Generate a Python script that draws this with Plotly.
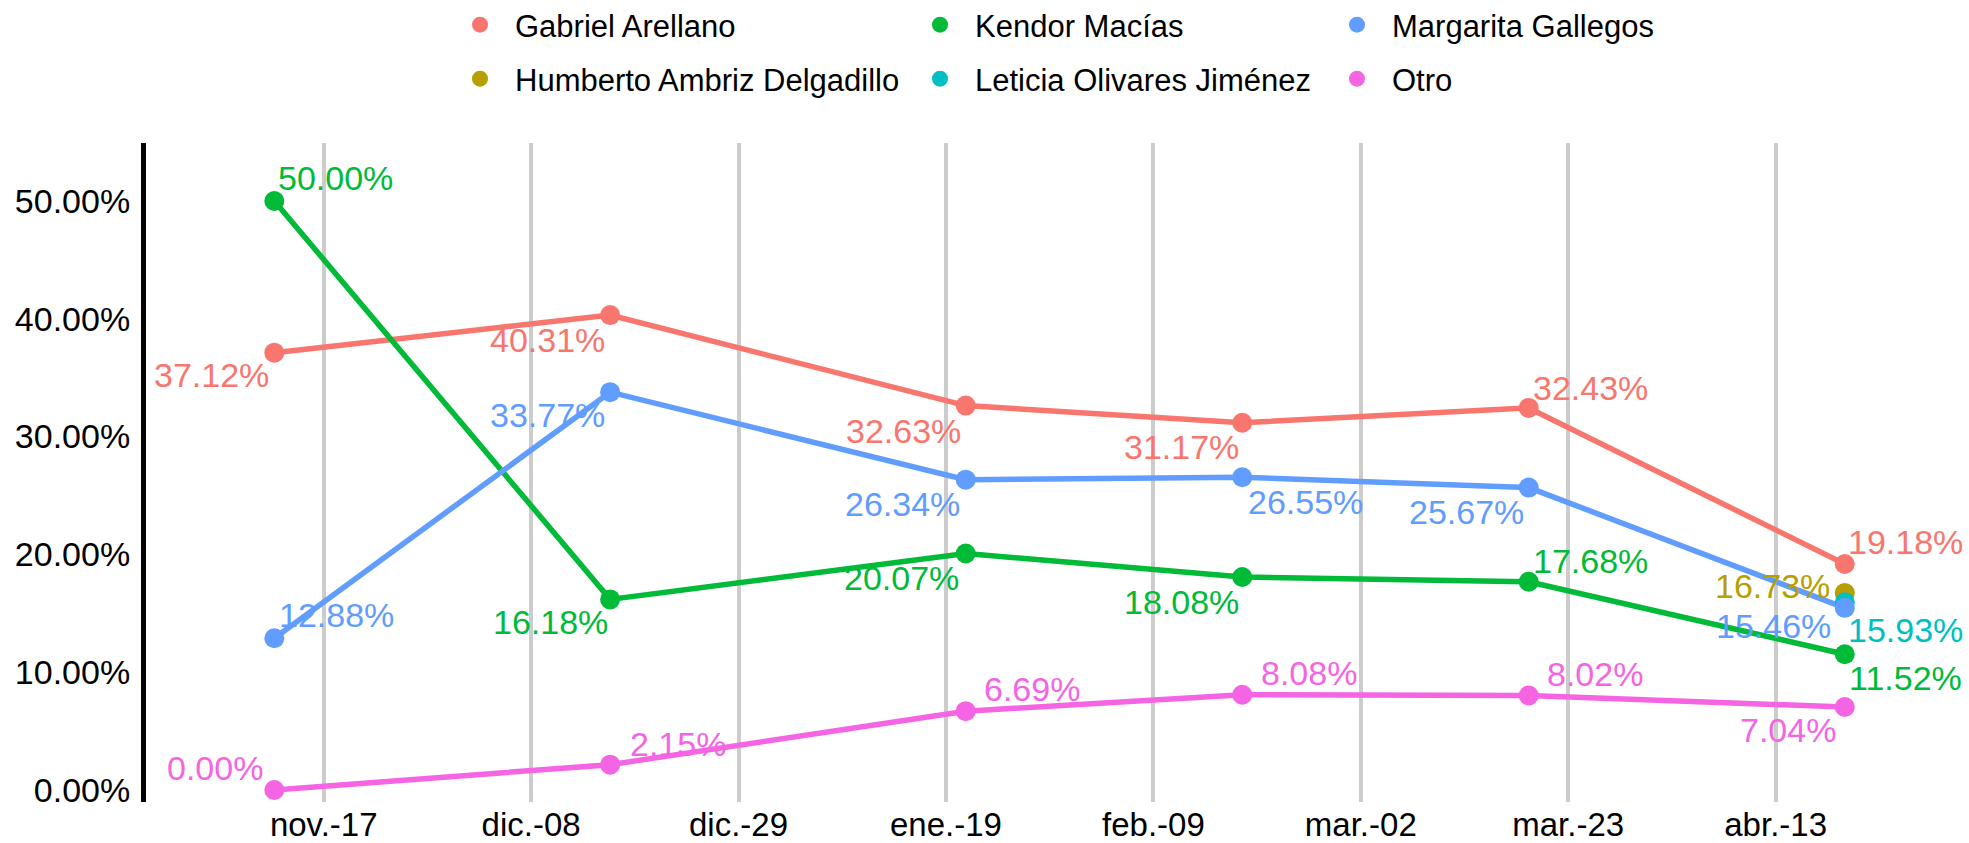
import plotly.graph_objects as go

# ---- data ----
dates = ["2017-11-12", "2017-12-16", "2018-01-21", "2018-02-18", "2018-03-19", "2018-04-20"]
tick_dates = ["2017-11-17", "2017-12-08", "2017-12-29", "2018-01-19",
              "2018-02-09", "2018-03-02", "2018-03-23", "2018-04-13"]
tick_labels = ["nov.-17", "dic.-08", "dic.-29", "ene.-19", "feb.-09", "mar.-02", "mar.-23", "abr.-13"]
y_ticks = [0, 10, 20, 30, 40, 50]
y_tick_labels = ["0.00%", "10.00%", "20.00%", "30.00%", "40.00%", "50.00%"]

names = ["Gabriel Arellano", "Humberto Ambriz Delgadillo", "Kendor Macías",
         "Leticia Olivares Jiménez", "Margarita Gallegos", "Otro"]
gabriel = [37.12, 40.31, 32.63, 31.17, 32.43, 19.18]
humberto = [None, None, None, None, None, 16.73]
kendor = [50.00, 16.18, 20.07, 18.08, 17.68, 11.52]
leticia = [None, None, None, None, None, 15.93]
margarita = [12.88, 33.77, 26.34, 26.55, 25.67, 15.46]
otro = [0.00, 2.15, 6.69, 8.08, 8.02, 7.04]
series = [gabriel, humberto, kendor, leticia, margarita, otro]

# ---- styles ----
colors = ["#F8766D", "#B79F00", "#00BA38", "#00BFC4", "#619CFF", "#F564E3"]
# label offsets (px right, px down) from each point
offsets = [
    [(-63, 22), (-63, 25), (-62, 25), (-61, 24), (62, -20), (61, -22)],
    [None, None, None, None, None, (-72, -7)],
    [(61, -23), (-60, 23), (-64, 24), (-61, 25), (62, -21), (61, 24)],
    [None, None, None, None, None, (61, 28)],
    [(62, -23), (-63, 23), (-63, 24), (63, 25), (-62, 24), (-71, 18)],
    [(-59, -22), (68, -21), (66, -22), (67, -22), (66, -22), (-57, 23)],
]
legend_ids = ["legend", "legend4", "legend2", "legend5", "legend3", "legend6"]
FONT = "Liberation Sans, Arial, sans-serif"

fig = go.Figure()

# lines first (like ggplot geom_line layer)
for name, vals, col in zip(names, series, colors):
    fig.add_trace(go.Scatter(x=dates, y=vals, mode="lines", name=name,
                             line=dict(color=col, width=5.5), showlegend=False,
                             hoverinfo="skip", connectgaps=False))
# points on top
for name, vals, col, lg in zip(names, series, colors, legend_ids):
    fig.add_trace(go.Scatter(x=dates, y=vals, mode="markers", name=name,
                             marker=dict(color=col, size=20), legend=lg))

# value labels
for vals, col, offs in zip(series, colors, offsets):
    for d, v, o in zip(dates, vals, offs):
        if v is None:
            continue
        fig.add_annotation(x=d, y=v, text=f"{v:.2f}%", showarrow=False,
                           xanchor="center", yanchor="middle",
                           xshift=o[0], yshift=-o[1],
                           font=dict(family=FONT, size=34, color=col))

L, R, T, B = 146, 1964, 143, 802
W, H = 1969, 843

def lx(px):
    return (px - L) / (R - L)

def ly(py):
    return (B - py) / (B - T)

leg_common = dict(orientation="v", xanchor="left", yanchor="top",
                  bgcolor="rgba(0,0,0,0)", borderwidth=0, itemwidth=60,
                  font=dict(family=FONT, size=31, color="black"))
layout_legends = {
    "legend": dict(x=lx(445), y=ly(-2), **leg_common),
    "legend2": dict(x=lx(905), y=ly(-2), **leg_common),
    "legend3": dict(x=lx(1322), y=ly(-2), **leg_common),
    "legend4": dict(x=lx(445), y=ly(52), **leg_common),
    "legend5": dict(x=lx(905), y=ly(52), **leg_common),
    "legend6": dict(x=lx(1322), y=ly(52), **leg_common),
}

fig.update_layout(
    width=W, height=H,
    margin=dict(l=L, r=W - R, t=T, b=H - B, autoexpand=False),
    plot_bgcolor="white", paper_bgcolor="white",
    font=dict(family=FONT, size=33, color="black"),
    showlegend=True,
    **layout_legends,
)
fig.update_xaxes(
    type="date",
    range=["2017-10-30 00:14", "2018-05-02 01:41"],
    tickvals=tick_dates, ticktext=tick_labels,
    showgrid=True, gridcolor="#CCCCCC", gridwidth=4,
    showline=False, zeroline=False, ticks="",
    ticklabelstandoff=0,
    tickfont=dict(family=FONT, size=33, color="black"),
)
fig.update_yaxes(
    range=[-1.02, 54.92],
    tickvals=y_ticks, ticktext=y_tick_labels,
    showgrid=False, zeroline=False,
    showline=True, linecolor="black", linewidth=5, ticks="",
    ticklabelstandoff=4,
    tickfont=dict(family=FONT, size=34, color="black"),
)

fig.write_html("out.html", config={"displayModeBar": False},
               post_script="document.body.style.margin='0px';document.body.style.overflow='hidden';")
